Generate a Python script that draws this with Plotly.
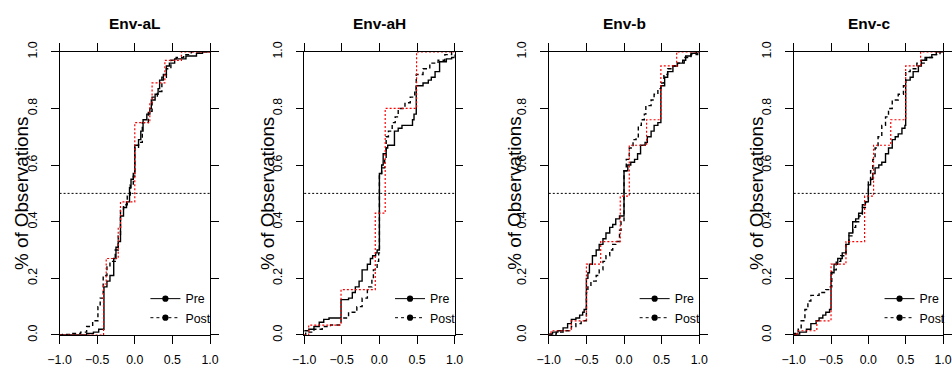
import plotly.graph_objects as go

# Figure size; the photographed page includes the browser's 8px body margin and
# is fitted back into 952x367, so target positions are pre-compensated below.
W, H = 952, 367
BODY_MARGIN = 8
SX = W / (W + 2 * BODY_MARGIN)
SY = H / (H + 2 * BODY_MARGIN)
FS = 1.0 / ((SX + SY) / 2)   # font compensation

titles = ["Env-aL", "Env-aH", "Env-b", "Env-c"]
x_ticks = [-1.0, -0.5, 0.0, 0.5, 1.0]
y_ticks = [0.0, 0.2, 0.4, 0.6, 0.8, 1.0]
legend_names = ["Pre", "Post"]
y_label = "% of Observations"
ref_level = 0.5

# ---------------- Env-aL ----------------
aL_pre_x = [-1.0, -0.64, -0.55, -0.48, -0.41, -0.37, -0.33, -0.28, -0.25, -0.22, -0.19, -0.15, -0.11, -0.07, -0.05,
            -0.02, 0.0, 0.05, 0.08, 0.11, 0.16, 0.20, 0.22, 0.27, 0.31, 0.33, 0.38, 0.42, 0.46, 0.53, 0.68, 0.82, 0.90, 1.0]
aL_pre_y = [0.0, 0.005, 0.01, 0.02, 0.17, 0.19, 0.21, 0.27, 0.31, 0.33, 0.42, 0.45, 0.47, 0.52, 0.55,
            0.57, 0.67, 0.69, 0.72, 0.76, 0.78, 0.80, 0.83, 0.85, 0.87, 0.90, 0.92, 0.95, 0.96, 0.975, 0.985, 0.995, 1.0, 1.0]
aL_post_x = [-1.0, -0.96, -0.85, -0.72, -0.64, -0.56, -0.49, -0.46, -0.42, -0.37, -0.33, -0.26, -0.22, -0.19, -0.15,
             -0.10, -0.06, -0.02, 0.0, 0.05, 0.10, 0.18, 0.23, 0.30, 0.36, 0.42, 0.48, 0.55, 0.65, 0.75, 1.0]
aL_post_y = [0.0, 0.002, 0.005, 0.01, 0.03, 0.05, 0.10, 0.13, 0.21, 0.24, 0.26, 0.30, 0.35, 0.44, 0.46,
             0.49, 0.53, 0.56, 0.66, 0.68, 0.75, 0.79, 0.84, 0.86, 0.91, 0.94, 0.97, 0.98, 0.99, 1.0, 1.0]
aL_ref_x = [-1.0, -0.415, -0.38, -0.22, -0.19, 0.0, 0.20, 0.23, 0.40, 0.62, 1.0]
aL_ref_y = [0.0, 0.18, 0.27, 0.38, 0.47, 0.75, 0.82, 0.89, 0.97, 1.0, 1.0]

# ---------------- Env-aH ----------------
aH_pre_x = [-1.0, -0.94, -0.87, -0.80, -0.74, -0.67, -0.51, -0.41, -0.36, -0.32, -0.27, -0.23, -0.16, -0.12, -0.09,
            -0.05, -0.03, 0.0, 0.03, 0.05, 0.09, 0.11, 0.20, 0.25, 0.30, 0.44, 0.46, 0.49, 0.58, 0.65, 0.69, 0.74,
            0.80, 0.89, 0.96, 1.0]
aH_pre_y = [0.015, 0.02, 0.03, 0.045, 0.055, 0.06, 0.125, 0.13, 0.15, 0.17, 0.19, 0.23, 0.25, 0.27, 0.28,
            0.29, 0.30, 0.57, 0.60, 0.64, 0.66, 0.67, 0.72, 0.73, 0.74, 0.76, 0.78, 0.88, 0.89, 0.90, 0.91, 0.93,
            0.965, 0.975, 0.98, 0.99]
aH_post_x = [-1.0, -0.98, -0.87, -0.76, -0.65, -0.51, -0.41, -0.30, -0.23, -0.16, -0.10, -0.08, -0.03, -0.01, 0.0,
             0.03, 0.07, 0.09, 0.12, 0.17, 0.21, 0.25, 0.34, 0.41, 0.47, 0.49, 0.58, 0.67, 0.78, 0.87, 0.96, 1.0]
aH_post_y = [0.0, 0.01, 0.02, 0.03, 0.035, 0.06, 0.08, 0.10, 0.13, 0.17, 0.20, 0.23, 0.26, 0.29, 0.57,
             0.59, 0.62, 0.70, 0.72, 0.75, 0.77, 0.80, 0.82, 0.84, 0.86, 0.92, 0.94, 0.96, 0.97, 0.99, 1.0, 1.0]
aH_ref_x = [-1.0, -0.94, -0.51, -0.055, 0.077, 0.494, 1.0]
aH_ref_y = [0.0, 0.035, 0.16, 0.43, 0.80, 1.0, 1.0]

# ---------------- Env-b ----------------
b_pre_x = [-1.0, -0.99, -0.95, -0.88, -0.81, -0.75, -0.70, -0.64, -0.59, -0.55, -0.53, -0.50, -0.48, -0.46, -0.42,
           -0.37, -0.33, -0.28, -0.24, -0.19, -0.15, -0.11, -0.06, 0.0, 0.05, 0.09, 0.14, 0.18, 0.22, 0.28, 0.31,
           0.36, 0.40, 0.45, 0.49, 0.54, 0.58, 0.65, 0.71, 0.78, 0.82, 0.89, 0.96, 1.0]
b_pre_y = [0.0, 0.003, 0.01, 0.015, 0.025, 0.04, 0.055, 0.06, 0.07, 0.08, 0.09, 0.20, 0.22, 0.25, 0.28,
           0.30, 0.32, 0.34, 0.36, 0.38, 0.39, 0.41, 0.42, 0.58, 0.60, 0.61, 0.62, 0.64, 0.67, 0.68, 0.70,
           0.72, 0.74, 0.75, 0.88, 0.91, 0.93, 0.95, 0.96, 0.97, 0.985, 0.995, 1.0, 1.0]
b_post_x = [-1.0, -0.98, -0.90, -0.81, -0.70, -0.64, -0.57, -0.50, -0.48, -0.44, -0.37, -0.33, -0.28, -0.24, -0.19,
            -0.15, -0.11, -0.06, -0.04, 0.0, 0.03, 0.07, 0.12, 0.16, 0.19, 0.23, 0.27, 0.29, 0.36, 0.40, 0.45,
            0.49, 0.53, 0.58, 0.65, 0.71, 0.80, 0.89, 0.98, 1.0]
b_post_y = [0.0, 0.003, 0.01, 0.015, 0.03, 0.04, 0.05, 0.15, 0.17, 0.19, 0.21, 0.23, 0.26, 0.28, 0.30,
            0.32, 0.33, 0.37, 0.40, 0.58, 0.62, 0.66, 0.69, 0.70, 0.74, 0.76, 0.78, 0.81, 0.83, 0.85, 0.87,
            0.89, 0.92, 0.94, 0.95, 0.96, 0.98, 0.99, 1.0, 1.0]
b_ref_x = [-1.0, -0.97, -0.70, -0.50, -0.31, -0.05, 0.07, 0.30, 0.49, 0.70, 1.0]
b_ref_y = [0.0, 0.015, 0.05, 0.25, 0.33, 0.49, 0.67, 0.76, 0.95, 1.0, 1.0]

# ---------------- Env-c ----------------
c_pre_x = [-1.0, -0.99, -0.92, -0.83, -0.77, -0.70, -0.66, -0.61, -0.57, -0.52, -0.50, -0.46, -0.41, -0.35, -0.30,
           -0.26, -0.21, -0.17, -0.13, -0.08, -0.04, 0.0, 0.03, 0.06, 0.09, 0.14, 0.18, 0.23, 0.27, 0.32, 0.36,
           0.40, 0.45, 0.49, 0.50, 0.56, 0.60, 0.67, 0.71, 0.78, 0.85, 0.91, 1.0]
c_pre_y = [0.0, 0.003, 0.01, 0.02, 0.04, 0.05, 0.06, 0.07, 0.08, 0.09, 0.22, 0.25, 0.27, 0.29, 0.32,
           0.36, 0.40, 0.41, 0.43, 0.46, 0.47, 0.53, 0.55, 0.57, 0.59, 0.60, 0.61, 0.64, 0.66, 0.69, 0.70,
           0.71, 0.73, 0.74, 0.90, 0.91, 0.93, 0.95, 0.97, 0.98, 0.99, 1.0, 1.0]
c_post_x = [-1.0, -0.99, -0.94, -0.90, -0.85, -0.81, -0.77, -0.66, -0.57, -0.52, -0.49, -0.43, -0.37, -0.30, -0.26,
            -0.21, -0.17, -0.13, -0.08, -0.04, 0.0, 0.03, 0.06, 0.09, 0.13, 0.18, 0.23, 0.27, 0.32, 0.40, 0.47,
            0.50, 0.56, 0.65, 0.76, 0.87, 0.96, 1.0]
c_post_y = [0.0, 0.005, 0.02, 0.05, 0.09, 0.12, 0.14, 0.15, 0.16, 0.17, 0.23, 0.26, 0.28, 0.32, 0.35,
            0.38, 0.40, 0.42, 0.45, 0.47, 0.54, 0.58, 0.62, 0.66, 0.70, 0.74, 0.77, 0.80, 0.83, 0.85, 0.88,
            0.93, 0.94, 0.96, 0.98, 0.99, 1.0, 1.0]
c_ref_x = [-1.0, -0.95, -0.69, -0.50, -0.30, -0.05, 0.07, 0.30, 0.50, 0.70, 1.0]
c_ref_y = [0.0, 0.015, 0.05, 0.25, 0.33, 0.49, 0.67, 0.76, 0.95, 1.0, 1.0]

pre_x = [aL_pre_x, aH_pre_x, b_pre_x, c_pre_x]
pre_y = [aL_pre_y, aH_pre_y, b_pre_y, c_pre_y]
post_x = [aL_post_x, aH_post_x, b_post_x, c_post_x]
post_y = [aL_post_y, aH_post_y, b_post_y, c_post_y]
ref_x = [aL_ref_x, aH_ref_x, b_ref_x, c_ref_x]
ref_y = [aL_ref_y, aH_ref_y, b_ref_y, c_ref_y]

# ---------------- target geometry (pixels in the final picture) ----------------
panel_left = [55.7, 301.7, 547.7, 794.0]
panel_w = 151.3
plot_top, plot_bottom = 49.0, 336.0
ylab_x = [17.5, 265.0, 513.0, 756.7]
title_y = 20.0
legend_dot_dx = 106.0
legend_mid_y = 307.5

FONT = "Liberation Sans, Arial, Helvetica, sans-serif"


def fx(v):
    return v / SX - BODY_MARGIN


def fy(v):
    return v / SY - BODY_MARGIN


def px_x(v):
    return min(max(fx(v) / W, 0.0), 1.0)


def px_y(v):
    return min(max(1.0 - fy(v) / H, 0.0), 1.0)


f_tick = 12 * FS
f_title = 15 * FS
f_ylab = 18 / SY
item_h = max(1.3 * f_tick, 16) + 3

fig = go.Figure()
layout = dict(
    width=W, height=H,
    autosize=False,
    margin=dict(l=0, r=0, t=0, b=0),
    paper_bgcolor="white", plot_bgcolor="white",
    font=dict(family=FONT, color="black", size=f_tick),
    showlegend=True,
    annotations=[],
)

for i in range(4):
    n = "" if i == 0 else str(i + 1)
    xa, ya, lg = "x" + n, "y" + n, "legend" + n
    fig.add_trace(go.Scatter(x=pre_x[i], y=pre_y[i], mode="lines",
                             line=dict(color="black", width=1.4, shape="hv"),
                             xaxis=xa, yaxis=ya, showlegend=False, hoverinfo="skip"))
    fig.add_trace(go.Scatter(x=post_x[i], y=post_y[i], mode="lines",
                             line=dict(color="black", width=1.4, shape="hv", dash="4px,3px"),
                             xaxis=xa, yaxis=ya, showlegend=False, hoverinfo="skip"))
    fig.add_trace(go.Scatter(x=ref_x[i], y=ref_y[i], mode="lines",
                             line=dict(color="red", width=1.2, shape="hv", dash="2px,2px"),
                             xaxis=xa, yaxis=ya, showlegend=False, hoverinfo="skip"))
    for name, dash in zip(legend_names, ["solid", "3px,3px"]):
        fig.add_trace(go.Scatter(x=[None], y=[None], mode="lines+markers", name=name,
                                 line=dict(color="black", width=1, dash=dash),
                                 marker=dict(color="black", size=6.2),
                                 legend=lg, xaxis=xa, yaxis=ya, showlegend=True))
    fig.add_shape(type="line", xref=xa + " domain", yref=ya, x0=0, x1=1,
                  y0=ref_level, y1=ref_level,
                  line=dict(color="black", width=1, dash="2px,2px"))

    left = panel_left[i]
    right = left + panel_w
    common = dict(showline=True, mirror="ticks", linecolor="black", linewidth=1,
                  ticks="outside", tickcolor="black", tickwidth=1,
                  showgrid=False, zeroline=False, tickfont=dict(size=f_tick, color="black"),
                  tickformat=".1f")
    layout["xaxis" + n] = dict(domain=[px_x(left), px_x(right)], range=[-1, 1], ticklen=8,
                               tickvals=x_ticks, anchor=ya, ticklabelstandoff=5, **common)
    layout["yaxis" + n] = dict(domain=[px_y(plot_bottom), px_y(plot_top)], range=[0, 1], ticklen=7.5,
                               tickvals=y_ticks, anchor=xa, tickangle=-90, ticklabelstandoff=9, **common)
    legend_top = fy(legend_mid_y) - item_h - 5
    layout[lg] = dict(x=(fx(left + legend_dot_dx) - 20) / W, y=1.0 - legend_top / H,
                      xanchor="left", yanchor="top",
                      bgcolor="rgba(0,0,0,0)", borderwidth=0, tracegroupgap=0,
                      font=dict(size=f_tick, color="black"))
    layout["annotations"].append(dict(text="<b>%s</b>" % titles[i], x=px_x((left + right) / 2),
                                      y=px_y(title_y), xref="paper", yref="paper",
                                      xanchor="center", yanchor="middle", showarrow=False,
                                      font=dict(size=f_title, color="black")))
    layout["annotations"].append(dict(text=y_label, x=px_x(ylab_x[i]),
                                      y=px_y((plot_top + plot_bottom) / 2), xref="paper", yref="paper",
                                      xanchor="center", yanchor="middle", showarrow=False, textangle=-90,
                                      font=dict(size=f_ylab, color="black")))

fig.update_layout(**layout)
fig.write_html("out.html")
